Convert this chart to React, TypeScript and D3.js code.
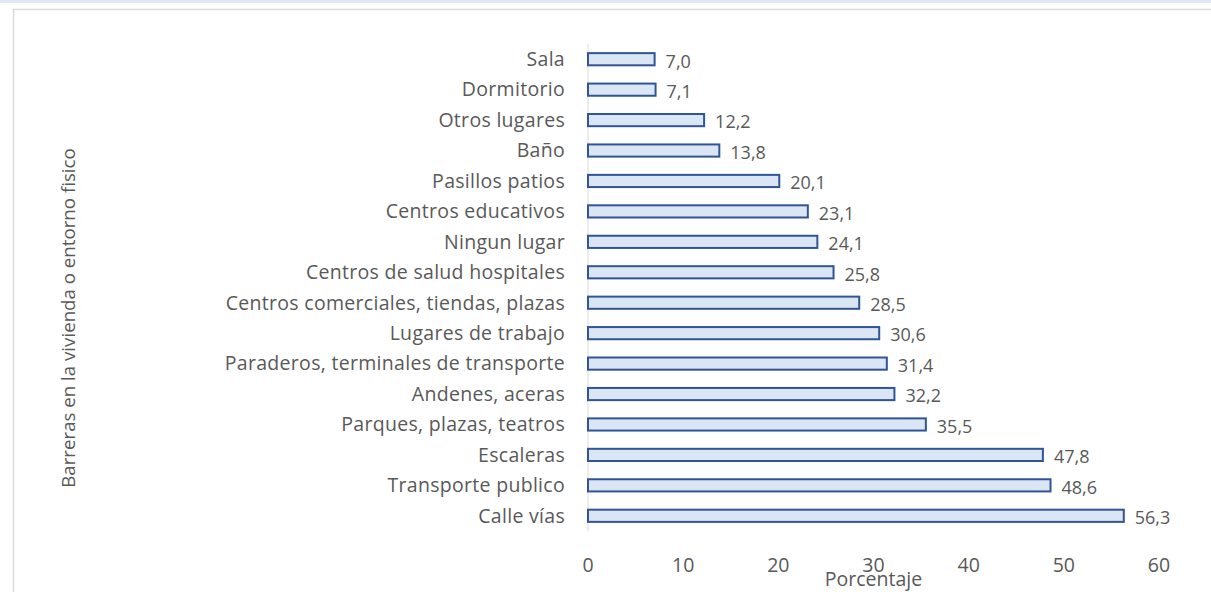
import React from "react";
import * as d3 from "d3";

const categories = [
  "Sala",
  "Dormitorio",
  "Otros lugares",
  "Baño",
  "Pasillos patios",
  "Centros educativos",
  "Ningun lugar",
  "Centros de salud hospitales",
  "Centros comerciales, tiendas, plazas",
  "Lugares de trabajo",
  "Paraderos, terminales de transporte",
  "Andenes, aceras",
  "Parques, plazas, teatros",
  "Escaleras",
  "Transporte publico",
  "Calle vías",
];
const values = [7.0, 7.1, 12.2, 13.8, 20.1, 23.1, 24.1, 25.8, 28.5, 30.6, 31.4, 32.2, 35.5, 47.8, 48.6, 56.3];
const xTicks = [0, 10, 20, 30, 40, 50, 60];
const xTitle = "Porcentaje";
const yTitle = "Barreras en la vivienda o entorno fisico";

export default function App() {
  const W = 1211, H = 592;
  const x = d3.scaleLinear().domain([0, 60]).range([588, 1159]);
  const y = d3.scaleBand<string>().domain(categories).range([44, 531]).paddingInner(0.6).paddingOuter(0.3);
  const font = "Open Sans, sans-serif";
  const col = "#595959";
  const fmt = (v: number) => v.toFixed(1).replace(".", ",");
  return (
    <svg width={W} height={H} style={{ position: "absolute", left: 0, top: 0, background: "#fff" }}>
      <rect x={0} y={0} width={W} height={3} fill="#dde9f6" />
      <rect x={13.5} y={9.5} width={1400} height={800} fill="#fff" stroke="#d9d9d9" strokeWidth={1.5} />
      <line x1={x(0)} x2={x(0)} y1={44} y2={531} stroke="#d9d9d9" strokeWidth={1} />
      {categories.map((c, i) => {
        const yy = y(c)!;
        const bh = y.bandwidth();
        return (
          <g key={c}>
            <rect x={x(0)} y={yy} width={x(values[i]) - x(0)} height={bh} fill="#dae6f4" stroke="#2f5597" strokeWidth={2} />
            <text x={565} y={yy + bh / 2} dy="0.35em" textAnchor="end" fontFamily={font} fontSize={19.5} letterSpacing={0.3} fill={col}>{c}</text>
            <text x={x(values[i]) + 11} y={yy + bh / 2 + 2} dy="0.35em" textAnchor="start" fontFamily={font} fontSize={18} fill={col}>{fmt(values[i])}</text>
          </g>
        );
      })}
      {xTicks.map((t) => (
        <text key={t} x={x(t)} y={565} dy="0.35em" textAnchor="middle" fontFamily={font} fontSize={19.5} fill={col}>{t}</text>
      ))}
      <text x={(x(0) + x(60)) / 2} y={579} dy="0.35em" textAnchor="middle" fontFamily={font} fontSize={19.5} fill={col}>{xTitle}</text>
      <text transform={`translate(68,${318}) rotate(-90)`} dy="0.35em" textAnchor="middle" fontFamily={font} fontSize={18.7} fill={col}>{yTitle}</text>
    </svg>
  );
}
